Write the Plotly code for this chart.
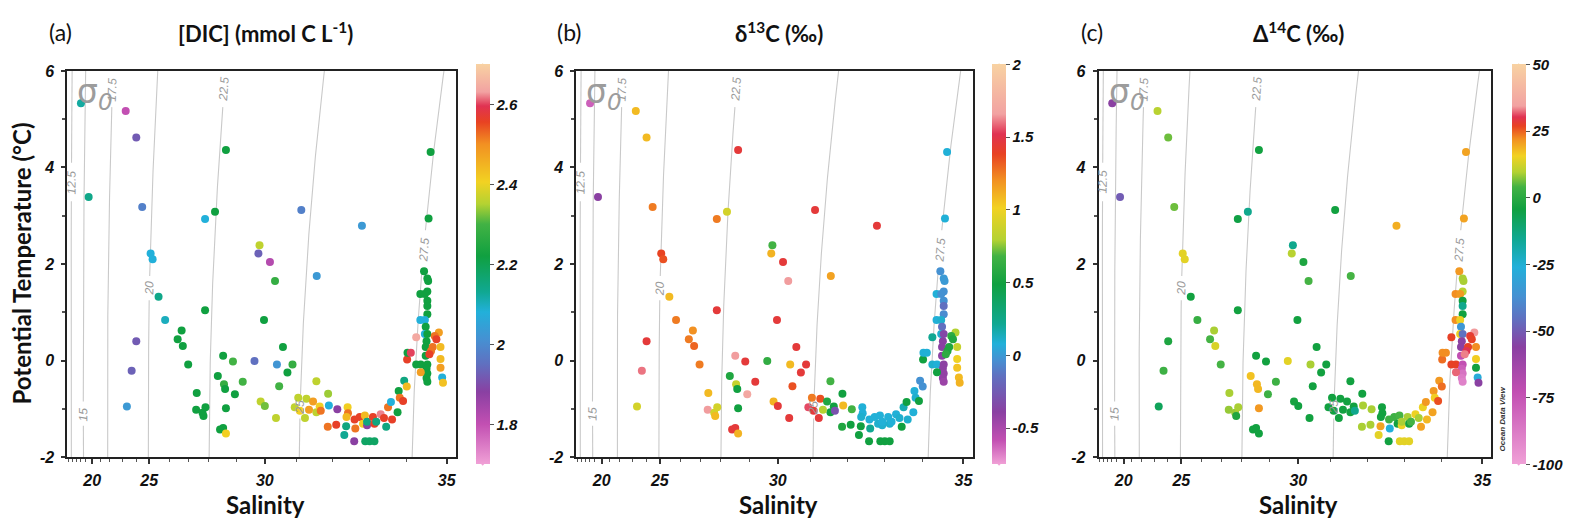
import numpy as np
import plotly.graph_objects as go

W, H = 1571, 529

# ---------------- data ----------------
SALINITY = [
    18.18, 23.22, 24.02, 28.61, 34.61, 19.5, 24.47, 27.81, 28.22, 31.14, 32.79, 34.56, 25.07, 25.17, 29.81, 29.77, 30.16,
    34.45, 34.53, 34.55, 34.53, 34.36, 34.47, 34.53, 34.53, 34.53, 34.36, 34.47, 34.49, 34.47, 34.53, 34.51, 34.49, 34.49,
    34.26, 34.37, 34.53, 34.51, 34.53, 34.51, 34.53,
    34.81, 34.71, 34.75, 34.66, 34.85, 34.62, 34.58, 34.85, 34.85, 34.89, 34.91,
    34.26, 34.02, 34.03, 34.12, 34.37,
    25.47, 25.8, 27.81, 24.02, 23.67, 23.31, 26.43, 26.63, 26.69, 26.96, 27.39, 27.36, 27.68, 27.73, 27.83, 28.32, 28.51,
    28.54, 28.58, 28.61, 28.40, 28.51, 28.61, 28.86, 28.93, 29.21, 29.63, 29.97, 29.85, 30.0, 30.32, 30.38, 30.45, 30.35,
    30.57, 30.71, 30.87, 31.56, 31.55,
    31.05, 31.28, 30.94, 31.1, 31.24, 31.46, 31.55, 31.64, 31.35, 31.67, 31.87, 31.89, 32.12, 31.86, 32.09,
    32.31, 32.36, 32.4, 32.41, 32.37, 32.58, 32.59, 32.61, 32.73, 32.87, 32.82, 32.93, 32.93, 32.88, 33.0, 33.13, 33.09,
    33.13, 33.18, 33.3, 33.39, 33.45, 33.5, 33.58, 33.61, 33.76, 33.79, 33.82, 33.91, 33.94, 34.01,
]
THETA = [
    5.33, 5.17, 4.62, 4.36, 4.32, 3.39, 3.18, 2.93, 3.08, 3.12, 2.79, 2.94, 2.22, 2.10, 2.39, 2.22, 2.04,
    1.85, 1.70, 1.65, 1.43, 1.38, 1.38, 1.24, 1.13, 0.96, 0.84, 0.84, 0.70, 0.55, 0.55, 0.40, 0.28, 0.10,
    -0.08, -0.08, -0.08, -0.17, -0.27, -0.36, -0.44,
    0.58, 0.51, 0.44, 0.28, 0.28, 0.20, 0.13, 0.03, -0.15, -0.35, -0.46,
    0.48, 0.02, 0.16, 0.16, -0.24,
    1.32, 0.84, 1.04, 0.40, -0.21, -0.95, 0.44, 0.62, 0.30, -0.08, -0.67, -1.02, -1.08, -1.15, -0.97, -0.32, 0.10,
    -0.49, -0.59, -0.99, -1.43, -1.40, -1.51, -0.02, -0.70, -0.44, -0.01, 0.84, -0.85, -0.94, 1.65, -0.08, -0.53, -1.19,
    0.28, -0.25, -0.08, 1.75, -0.43,
    -0.77, -0.79, -0.97, -1.04, -1.19, -0.85, -1.07, -0.95, -1.02, -1.04, -0.69, -0.93, -1.01, -1.37, -1.33,
    -1.54, -1.36, -0.97, -1.09, -1.17, -1.67, -1.22, -1.41, -1.17, -1.14, -1.31, -1.34, -1.27, -1.67, -1.67, -1.67, -1.17,
    -1.31, -1.27, -1.11, -1.19, -1.37, -0.97, -0.86, -1.22, -1.07, -0.63, -0.77, -0.84, -0.42, -0.54,
]
DIC = [
    2.12, 1.80, 1.92, 2.22, 2.22, 2.14, 1.98, 2.08, 2.22, 1.98, 2.03, 2.22, 2.08, 2.08, 2.36, 1.93, 1.82,
    2.22, 2.22, 2.22, 2.22, 2.22, 2.22, 2.22, 2.22, 2.22, 2.08, 2.08, 2.22, 2.08, 2.22, 2.22, 2.22, 2.22,
    2.22, 2.22, 2.22, 2.22, 2.22, 2.22, 2.22,
    2.48, 2.52, 2.56, 2.52, 2.44, 2.52, 2.56, 2.44, 2.48, 2.08, 2.43,
    2.64, 2.56, 2.22, 2.60, 2.48,
    2.14, 2.10, 2.22, 1.92, 1.93, 2.03, 2.22, 2.22, 2.22, 2.22, 2.22, 2.22, 2.22, 2.22, 2.22, 2.22, 2.22,
    2.28, 2.22, 2.22, 2.22, 2.22, 2.41, 2.30, 2.22, 2.30, 1.95, 2.22, 2.36, 2.32, 2.28, 2.02, 2.30, 2.36,
    2.22, 2.22, 2.28, 2.03, 2.36,
    2.36, 2.36, 2.36, 2.41, 2.36, 2.48, 2.36, 2.41, 2.48, 2.52, 2.34, 2.08, 1.88, 2.52, 2.56,
    2.13, 2.15, 2.41, 2.52, 2.44, 1.88, 2.56, 2.52, 2.56, 2.44, 2.41, 1.88, 2.15, 2.18, 2.18, 2.18, 2.56,
    2.56, 2.15, 2.62, 2.56, 2.15, 2.52, 2.08, 2.56, 2.22, 2.22, 2.52, 2.56, 2.15, 2.44,
]
D13C = [
    -0.62, 1.08, 1.08, 1.45, 0.08, -0.39, 1.25, 1.25, 0.90, 1.45, 1.45, 0.08, 1.38, 1.35, 0.68, 1.10, 1.45,
    -0.03, 0.0, 0.0, -0.03, 0.08, -0.03, -0.03, -0.15, -0.05, 0.08, 0.10, -0.15, 0.10, -0.35, -0.39, -0.39, -0.40,
    0.10, 0.08, -0.40, -0.40, -0.42, -0.42, -0.45,
    0.79, 0.60, 0.55, 0.55, 0.85, 0.55, 0.60, 1.00, 1.05, 1.08, 1.10,
    0.21, 0.49, 0.08, 0.08, 0.49,
    1.08, 1.25, 1.45, 1.45, 1.60, 0.90, 1.25, 1.20, 1.30, 1.25, 1.08, 1.65, 0.90, 1.08, 0.90, 0.55, 1.65,
    0.85, 0.49, 0.49, 1.45, 1.45, 1.10, 1.45, 1.70, 1.45, 0.62, 1.45, 1.10, 1.45, 1.65, 1.08, 1.35, 1.45,
    1.45, 1.45, 1.45, 1.15, 0.68,
    1.25, 1.35, 1.55, 1.45, 1.45, 0.55, 0.49, 0.49, 0.80, -0.30, 0.49, 1.08, 0.68, 0.55, 0.49,
    0.49, 0.49, 0.08, 0.08, 0.10, 0.49, 0.08, 0.21, 0.08, 0.08, 0.10, 0.10, 0.08, 0.49, 0.49, 0.49, 0.08,
    0.10, 0.08, 0.08, 0.10, 0.49, 0.15, 0.49, 0.10, 0.08, 0.08, 0.10, 0.49, -0.03, -0.03,
]
D14C = [
    -56, 10, 6, -4, 20, -50, 6, -5, -15, -4, 19, 20, 14, 14, -15, 10, -2,
    21, 9, 9, 10, 22, 21, -4, -15, -4, 22, 15, -35, 15, -45, -56, -56, -73,
    27, 27, -73, -78, -85, -88, -90,
    34, 28, 27, 27, 22, 30, 33, 16, -4, -28, -56,
    27, 24, 22, 22, 32,
    -4, 2, -4, -2, 3, -8, 4, 9, 13, 4, 9, 8, 8, -2, 9, 17, -4,
    18, 18, 21, -4, -4, -4, -4, 3, 3, 14, -4, -3, -4, 4, 9, -4, -4,
    -4, -4, -4, 4, -4,
    -4, -4, -4, -4, -4, -4, -4, -4, -4, -15, -4, 9, 9, 9, 9,
    14, 20, -4, -4, -4, -4, 3, -26, 3, 4, -4, 15, 9, 14, 14, 14, 9,
    -4, 4, 15, 9, 20, 15, 21, 18, 20, 21, 16, 26, 21, 24,
]

SAL_TICKS = [20, 25, 30, 35]
SAL_MINOR = list(range(15, 36))
THETA_TICKS = [-2, 0, 2, 4, 6]

# isopycnal levels (sigma-0) and the potential temperature at which each one is labelled
SIGMA_LEVELS = [12.5, 15.0, 17.5, 20.0, 22.5, 25.0, 27.5]
SIGMA_LABEL_THETA = [3.70, -1.11, 5.62, 1.50, 5.62, -0.97, 2.30]
SIGMA_LABEL_TEXT = ['12.5', '15', '17.5', '20', '22.5', '25', '27.5']

# ODV non-linear salinity axis: salinity -> fraction of the axis width
SAL_SCALE_S = [14.5, 15.6, 18.7, 20.0, 21.8, 25.0, 28.0, 30.0, 31.1, 34.2, 35.0, 35.5]
SAL_SCALE_F = [-0.0021, 0.0090, 0.0399, 0.0638, 0.1017, 0.2106, 0.3642, 0.5084, 0.5985, 0.8919, 0.9768, 1.0299]


def sal_axis(s):
    return np.interp(np.asarray(s, dtype=float), SAL_SCALE_S, SAL_SCALE_F)


def sigma0(S, T):
    """UNESCO EOS-80 potential density anomaly at p = 0."""
    rw = (999.842594 + 6.793952e-2 * T - 9.095290e-3 * T**2 + 1.001685e-4 * T**3
          - 1.120083e-6 * T**4 + 6.536332e-9 * T**5)
    A = 8.24493e-1 - 4.0899e-3 * T + 7.6438e-5 * T**2 - 8.2467e-7 * T**3 + 5.3875e-9 * T**4
    B = -5.72466e-3 + 1.0227e-4 * T - 1.6546e-6 * T**2
    C = 4.8314e-4
    return rw + A * S + B * S**1.5 + C * S**2 - 1000.0


S_GRID = np.arange(14.0, 36.01, 0.01)


def isopycnal_salinity(level, T):
    return np.array([np.interp(level, sigma0(S_GRID, t), S_GRID) for t in np.atleast_1d(T)])


PALETTE = ['#f0a0d6', '#c24fb2', '#8a40a2', '#6070c0', '#4690d2', '#22b0da', '#10a892',
           '#10a040', '#42b244', '#b4d232', '#f2d222', '#f29022', '#e84222', '#e03252',
           '#f2a2a2', '#f8d2a2']
STOPS_A = [0, 0.10, 0.18, 0.25, 0.31, 0.38, 0.43, 0.52, 0.60, 0.65, 0.705, 0.80, 0.855, 0.895, 0.93, 1.0]
STOPS_B = [0, 0.06, 0.13, 0.22, 0.26, 0.30, 0.35, 0.45, 0.52, 0.56, 0.64, 0.71, 0.775, 0.825, 0.875, 1.0]
STOPS_C = [0, 0.18, 0.2925, 0.3625, 0.4175, 0.4925, 0.5625, 0.6375, 0.6925, 0.73, 0.77, 0.8125,
           0.845, 0.8675, 0.895, 1.0]

PANELS = [
    dict(values=DIC, cmin=1.7, cmax=2.7, stops=STOPS_A,
         tickvals=[1.8, 2.0, 2.2, 2.4, 2.6], ticktext=['1.8', '2', '2.2', '2.4', '2.6'],
         tag='(a)', title='[DIC] (mmol C L<sup>-1</sup>)'),
    dict(values=D13C, cmin=-0.75, cmax=2.0, stops=STOPS_B,
         tickvals=[-0.5, 0, 0.5, 1, 1.5, 2], ticktext=['-0.5', '0', '0.5', '1', '1.5', '2'],
         tag='(b)', title='δ<sup>13</sup>C (‰)'),
    dict(values=D14C, cmin=-100, cmax=50, stops=STOPS_C,
         tickvals=[-100, -75, -50, -25, 0, 25, 50],
         ticktext=['-100', '-75', '-50', '-25', '0', '25', '50'],
         tag='(c)', title='Δ<sup>14</sup>C (‰)'),
]

# ---------------- layout geometry (pixels) ----------------
PLOT_L = [67.5, 576.7, 1099.3]
PLOT_R = [456.0, 973.3, 1492.3]
PLOT_T, PLOT_B = 65.0, 464.0
CB_L = [476.0, 992.7, 1512.7]
CB_W = 14
CB_T, CB_B = 65.0, 465.0


def X(px):
    return px / W


def Y(py):
    return 1 - py / H


TICKFONT = dict(family='Liberation Sans, Arial', size=16, color='#111111', weight='bold', style='italic')
CBFONT = dict(family='Liberation Sans, Arial', size=15, color='#111111', weight='bold', style='italic')
ISOFONT = dict(family='Liberation Sans, Arial', size=12, color='#9a9a9a', style='italic')
LABEL_FAMILY = 'Lato, Open Sans, sans-serif'

fig = go.Figure()

T_LINE = np.linspace(-2.0, 6.0, 161)
x_pts = sal_axis(SALINITY)
px_per_theta = (PLOT_B - PLOT_T) / 8.0

annotations = []
shapes = []
layout_axes = {}

for i, p in enumerate(PANELS):
    sfx = '' if i == 0 else str(i + 1)
    xa, ya = 'x' + sfx, 'y' + sfx
    width_px = PLOT_R[i] - PLOT_L[i]

    # isopycnals, broken where their label sits
    for lev, t_lab, txt in zip(SIGMA_LEVELS, SIGMA_LABEL_THETA, SIGMA_LABEL_TEXT):
        s_line = isopycnal_salinity(lev, T_LINE)
        x_line = sal_axis(s_line)
        half_gap = (len(txt) * 7.0 / 2 + 4) / px_per_theta
        y_line = np.where(np.abs(T_LINE - t_lab) < half_gap, np.nan, T_LINE)
        fig.add_trace(go.Scatter(x=x_line, y=y_line, xaxis=xa, yaxis=ya, mode='lines',
                                 line=dict(color='#c9c9c9', width=1.1), hoverinfo='skip',
                                 connectgaps=False, showlegend=False))
        s_lab = isopycnal_salinity(lev, [t_lab - 0.2, t_lab, t_lab + 0.2])
        x_lab = sal_axis(s_lab)
        dx = (x_lab[2] - x_lab[0]) * width_px
        dy = 0.4 * px_per_theta
        angle = -np.degrees(np.arctan2(dy, dx))
        annotations.append(dict(text=txt, x=float(x_lab[1]), y=t_lab, xref=xa, yref=ya,
                                showarrow=False, textangle=float(angle), xanchor='center',
                                yanchor='middle', font=ISOFONT))

    fig.add_trace(go.Scatter(
        x=x_pts, y=THETA, xaxis=xa, yaxis=ya, mode='markers',
        marker=dict(size=8, color=p['values'], coloraxis='coloraxis' + sfx, line=dict(width=0)),
        showlegend=False))

    cscale = [[s, c] for s, c in zip(p['stops'], PALETTE)]
    layout_axes['coloraxis' + sfx] = dict(
        colorscale=cscale, cmin=p['cmin'], cmax=p['cmax'],
        colorbar=dict(x=X(CB_L[i]), xanchor='left', xpad=0, ypad=0,
                      y=Y((CB_T + CB_B) / 2), yanchor='middle',
                      len=CB_B - CB_T, lenmode='pixels', thickness=CB_W, thicknessmode='pixels',
                      outlinewidth=0, tickvals=p['tickvals'], ticktext=p['ticktext'],
                      ticks='outside', ticklen=4, tickcolor='#555555', tickfont=CBFONT))

    layout_axes['xaxis' + sfx] = dict(
        domain=[X(PLOT_L[i]), X(PLOT_R[i])], range=[0, 1], anchor=ya,
        tickmode='array', tickvals=list(sal_axis(SAL_TICKS)), ticktext=[str(t) for t in SAL_TICKS],
        ticks='outside', ticklen=5, tickwidth=1.5, tickcolor='#333333', tickfont=TICKFONT,
        ticklabelstandoff=3,
        minor=dict(tickmode='array', tickvals=list(sal_axis(SAL_MINOR)), ticks='outside',
                   ticklen=3, tickcolor='#555555', tickwidth=1),
        showline=True, linewidth=2, linecolor='#222222', mirror=True,
        showgrid=False, zeroline=False)
    layout_axes['yaxis' + sfx] = dict(
        domain=[Y(PLOT_B), Y(PLOT_T)], range=[-2, 6], anchor=xa,
        tickmode='array', tickvals=THETA_TICKS, ticktext=[str(t) for t in THETA_TICKS],
        ticks='outside', ticklen=4, tickwidth=1.5, tickcolor='#333333', tickfont=TICKFONT,
        ticklabelstandoff=4,
        minor=dict(dtick=1, ticks='outside', ticklen=3, tickcolor='#555555'),
        showline=True, linewidth=2, linecolor='#222222', mirror=True,
        showgrid=False, zeroline=False)

    # colorbar end arrows
    top_c, bot_c = PALETTE[-1], PALETTE[0]
    x0, x1, xc = X(CB_L[i]), X(CB_L[i] + CB_W), X(CB_L[i] + CB_W / 2)
    shapes.append(dict(type='path', xref='paper', yref='paper', fillcolor=top_c, line=dict(width=0),
                       path=f'M {x0},{Y(CB_T)} L {x1},{Y(CB_T)} L {xc},{Y(CB_T - 8)} Z'))
    shapes.append(dict(type='path', xref='paper', yref='paper', fillcolor=bot_c, line=dict(width=0),
                       path=f'M {x0},{Y(CB_B)} L {x1},{Y(CB_B)} L {xc},{Y(CB_B + 8)} Z'))

    centre = (PLOT_L[i] + PLOT_R[i]) / 2
    annotations += [
        dict(text=p['tag'], x=X(PLOT_L[i] - 7), y=Y(25), xref='paper', yref='paper',
             showarrow=False, xanchor='center', yanchor='middle',
             font=dict(family=LABEL_FAMILY, size=23, color='#111111')),
        dict(text='<b>' + p['title'] + '</b>', x=X(centre + 4), y=Y(25), xref='paper', yref='paper',
             showarrow=False, xanchor='center', yanchor='middle',
             font=dict(family=LABEL_FAMILY, size=22, color='#111111')),
        dict(text='<b>Salinity</b>', x=X(centre + 4), y=Y(513), xref='paper', yref='paper',
             showarrow=False, xanchor='center', yanchor='middle',
             font=dict(family=LABEL_FAMILY, size=24, color='#111111')),
        dict(text='σ<sub><i>0</i></sub>', x=X(PLOT_L[i] + 8), y=Y(88), xref='paper', yref='paper',
             showarrow=False, xanchor='left', yanchor='middle',
             font=dict(family='DejaVu Sans', size=33, color='#9c9c9c')),
    ]

annotations += [
    dict(text='<b>Potential Temperature (°C)</b>', x=X(22), y=Y(264), xref='paper', yref='paper',
         showarrow=False, textangle=-90, xanchor='center', yanchor='middle',
         font=dict(family=LABEL_FAMILY, size=24, color='#111111')),
    dict(text='Ocean Data View', x=X(1503), y=Y(425), xref='paper', yref='paper',
         showarrow=False, textangle=-90, xanchor='center', yanchor='middle',
         font=dict(family='Liberation Sans, Arial', size=8, color='#333333', weight='bold', style='italic')),
]

fig.update_layout(
    width=W, height=H, margin=dict(l=0, r=0, t=0, b=0),
    paper_bgcolor='white', plot_bgcolor='white', showlegend=False,
    annotations=annotations, shapes=shapes, **layout_axes)

fig.write_html('out.html')
